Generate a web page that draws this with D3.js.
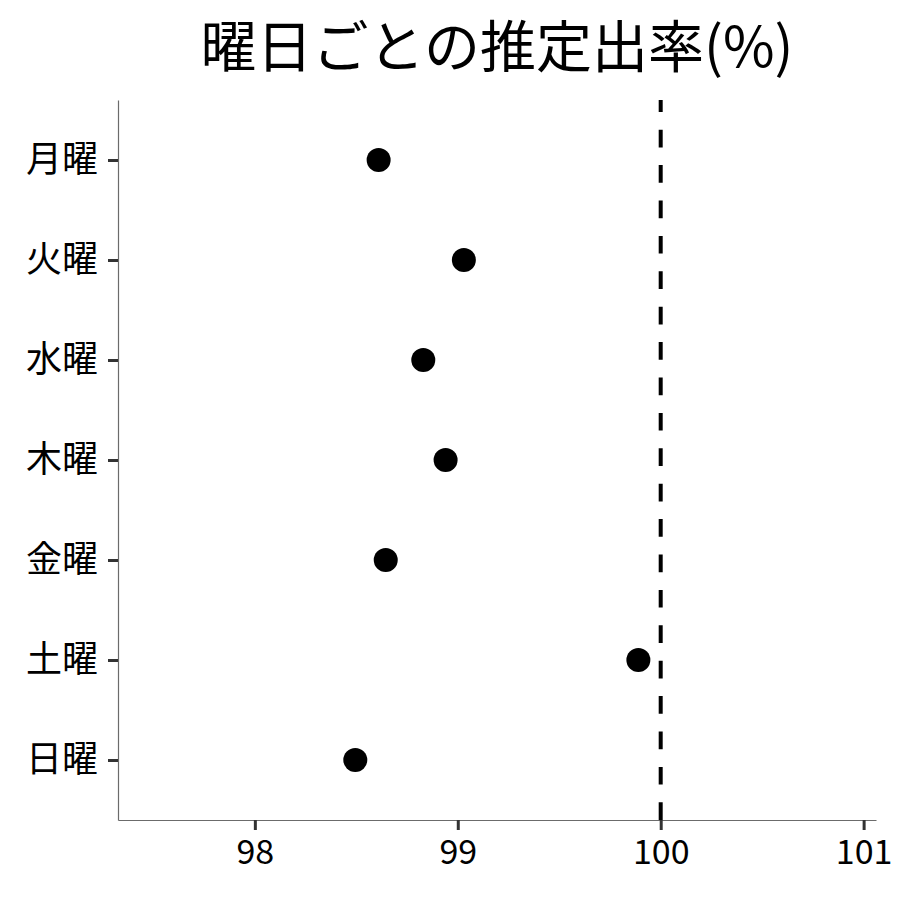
<!DOCTYPE html>
<html>
<head>
<meta charset="utf-8">
<script src="https://cdn.jsdelivr.net/npm/d3@7"></script>
<style>
  html, body { margin: 0; padding: 0; background: #fff; }
  text { font-family: "Noto Sans CJK JP", "Noto Sans", sans-serif; }
</style>
</head>
<body>
<div id="chart"></div>
<script>
const titleText = "曜日ごとの推定出率(%)";
const days = ["月曜", "火曜", "水曜", "木曜", "金曜", "土曜", "日曜"];
const rates = [98.61, 99.03, 98.83, 98.94, 98.645, 99.89, 98.495];
const xTicks = [98, 99, 100, 101];
const referenceValue = 100;
const xDomain = [97.3256, 101.061];

const W = 900, H = 900;
const margin = { left: 118, right: 24, top: 100, bottom: 80 };

const svg = d3.select("#chart").append("svg")
  .attr("width", W).attr("height", H)
  .style("background", "#fff");

const x = d3.scaleLinear().domain(xDomain).range([margin.left, W - margin.right]);
const y = d3.scalePoint().domain(days).range([margin.top, H - margin.bottom]).padding(0.6);

// title
svg.append("text")
  .attr("x", (margin.left + W - margin.right) / 2)
  .attr("y", 67)
  .attr("text-anchor", "middle")
  .attr("font-size", 56)
  .attr("fill", "#000")
  .text(titleText);

// reference dashed line
svg.append("line")
  .attr("x1", x(referenceValue)).attr("x2", x(referenceValue))
  .attr("y1", H - margin.bottom).attr("y2", margin.top)
  .attr("stroke", "#000").attr("stroke-width", 4)
  .attr("stroke-dasharray", "17.7,17.7");

// x axis
const xAxis = svg.append("g")
  .attr("transform", `translate(0,${H - margin.bottom})`)
  .call(d3.axisBottom(x).tickValues(xTicks).tickSize(10).tickSizeOuter(0).tickPadding(10).tickFormat(d3.format("d")));
xAxis.select(".domain").attr("stroke", "#6b6b6b").attr("stroke-width", 1.2);
xAxis.selectAll(".tick line").attr("stroke", "#333").attr("stroke-width", 3);
xAxis.selectAll(".tick text").attr("font-size", 34).attr("fill", "#000");

// y axis
const yAxis = svg.append("g")
  .attr("transform", `translate(${margin.left},0)`)
  .call(d3.axisLeft(y).tickSize(10).tickSizeOuter(0).tickPadding(10));
yAxis.select(".domain").attr("stroke", "#6b6b6b").attr("stroke-width", 1.2);
yAxis.selectAll(".tick line").attr("stroke", "#333").attr("stroke-width", 3);
yAxis.selectAll(".tick text").attr("font-size", 36).attr("fill", "#000");

// points
svg.append("g").selectAll("circle")
  .data(days.map((d, i) => ({ day: d, rate: rates[i] })))
  .join("circle")
  .attr("cx", d => x(d.rate))
  .attr("cy", d => y(d.day))
  .attr("r", 12)
  .attr("fill", "#000");
</script>
</body>
</html>
